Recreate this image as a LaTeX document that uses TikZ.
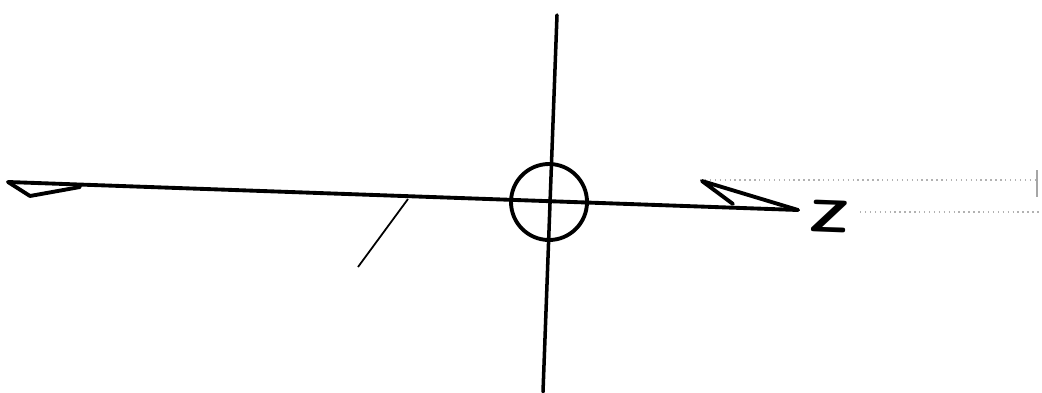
\documentclass[tikz,border=0pt]{standalone}
\usepackage{tikz}
\usetikzlibrary{positioning,calc}

\begin{document}
\begin{tikzpicture}[
    axisline/.style={line width=1.1pt, line cap=round, line join=round},
    faint/.style={gray!60, densely dotted, line width=0.4pt},
    ring/.style={draw, circle, line width=1.1pt, minimum size=0.76cm, inner sep=0pt}
]
\useasboundingbox (0,0) rectangle (10.42,3.92);

% end points of the sketch
\coordinate (wtip) at (0.08,2.10);
\coordinate (wbarb) at (0.30,1.96);
\coordinate (wjoin) at (0.80,2.05);
\coordinate (etip) at (7.98,1.82);
\coordinate (ebarb) at (7.02,2.11);
\coordinate (eend) at (7.33,1.88);
\coordinate (ntop) at (5.57,3.77);
\coordinate (sbot) at (5.43,0);
\coordinate (slashtop) at (4.08,1.93);
\coordinate (slashbot) at (3.58,1.25);

\node[ring] (origin) at (5.49,1.90) {};
\node[font=\sffamily\bfseries\fontsize{13}{13}\selectfont, xscale=1.35, inner sep=0pt, rotate=-3] (zmark) at (8.29,1.76) {Z};

% faint ruling of the paper
\draw[faint] (7.00,2.12) -- (10.35,2.12);
\draw[faint] (8.60,1.80) -- (10.42,1.80);
\draw[gray!70, line width=0.8pt] (10.37,2.22) -- (10.37,1.95);

\draw[axisline] (wtip) -- (etip);
\draw[axisline] (wtip) -- (wbarb) -- (wjoin);
\draw[axisline] (etip) -- (ebarb) -- (eend);
\draw[axisline, line width=1pt] (ntop) -- (sbot);
\draw[line width=0.5pt] (slashtop) -- (slashbot);
\end{tikzpicture}
\end{document}
